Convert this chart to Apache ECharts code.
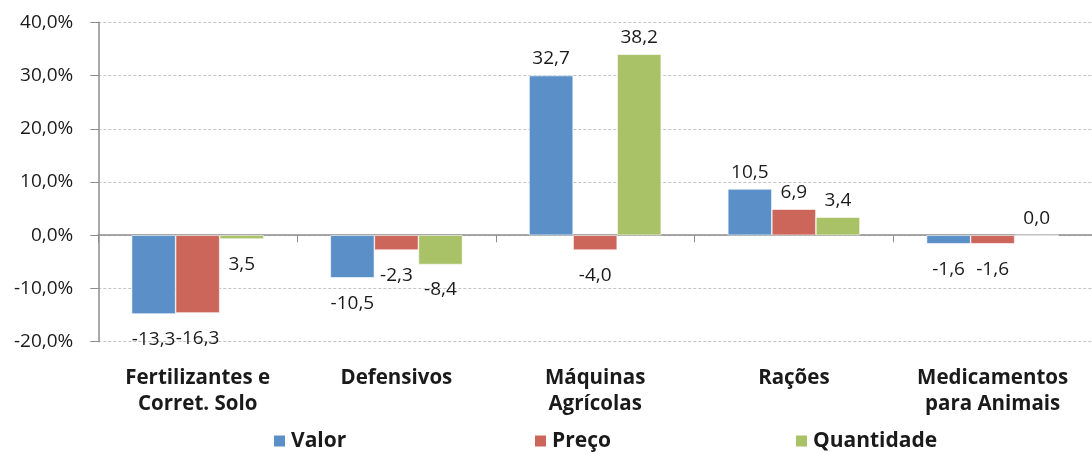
<!DOCTYPE html>
<html>
<head>
<meta charset="utf-8">
<script src="https://cdn.jsdelivr.net/npm/echarts@6/dist/echarts.min.js"></script>
<style>
html,body{margin:0;padding:0;background:#fff;}
#c{width:1092px;height:454px;}
</style>
</head>
<body>
<div id="c"></div>
<script>
const categories = ['Fertilizantes e\nCorret. Solo', 'Defensivos', 'Máquinas\nAgrícolas', 'Rações', 'Medicamentos\npara Animais'];
const seriesNames = ['Valor', 'Preço', 'Quantidade'];
// bar heights as drawn in the picture
const valor = [-14.8, -8.0, 30.0, 8.7, -1.6];
const preco = [-14.6, -2.8, -2.8, 4.9, -1.6];
const quantidade = [-0.7, -5.5, 34.0, 3.4, 0.0];
// data label texts as printed in the picture
const valorLabels = [-13.3, -10.5, 32.7, 10.5, -1.6];
const precoLabels = [-16.3, -2.3, -4.0, 6.9, -1.6];
const quantidadeLabels = [3.5, -8.4, 38.2, 3.4, 0.0];
const yTicks = [-20, -10, 0, 10, 20, 30, 40];

const colors = ['#5B8FC7', '#CC655A', '#A9C167'];
const FONT = '"Open Sans", sans-serif';

function fmt(v){ return v.toFixed(1).replace('.', ','); }

function buildData(vals, labs){
  return vals.map((v, i) => ({
    value: v,
    label: {
      position: v < 0 ? 'bottom' : 'top',
      distance: v < 0 ? 16 : 7,
      formatter: fmt(labs[i])
    }
  }));
}

const seriesVals = [valor, preco, quantidade];
const seriesLabs = [valorLabels, precoLabels, quantidadeLabels];

const chart = echarts.init(document.getElementById('c'), null, {renderer: 'canvas'});
chart.setOption({
  animation: false,
  color: colors,
  grid: {left: 98.3, top: 22.3, width: 1005, bottom: 112.3, containLabel: false},
  legend: {
    data: seriesNames,
    left: 272,
    top: 429,
    padding: 0,
    itemWidth: 13,
    itemHeight: 13,
    itemGap: 12,
    icon: 'rect',
    textStyle: {fontFamily: FONT, fontWeight: 'bold', fontSize: 21, color: '#1a1a1a', width: 230, lineHeight: 24}
  },
  xAxis: [{
    type: 'category',
    data: categories,
    axisLine: {onZero: true, lineStyle: {color: '#8C8C8C', width: 1.5}},
    axisTick: {show: true, length: 7, lineStyle: {color: '#8C8C8C'}},
    axisLabel: {show: false},
    splitLine: {show: false}
  }, {
    type: 'category',
    data: categories,
    position: 'bottom',
    axisLine: {show: false, onZero: false},
    axisTick: {show: false},
    axisLabel: {
      show: true, margin: 23, interval: 0,
      fontFamily: FONT, fontWeight: 'bold', fontSize: 20.5, lineHeight: 26, color: '#1a1a1a', align: 'center'
    }
  }],
  yAxis: {
    type: 'value',
    min: yTicks[0],
    max: yTicks[yTicks.length - 1],
    interval: 10,
    axisLine: {show: true, lineStyle: {color: '#8C8C8C', width: 1.5}},
    axisTick: {show: true, length: 8, lineStyle: {color: '#8C8C8C'}},
    axisLabel: {
      margin: 25,
      fontFamily: FONT, fontSize: 19, color: '#1a1a1a',
      formatter: v => fmt(v) + '%'
    },
    splitLine: {show: true, lineStyle: {color: '#C4C4C4', type: [3, 2], width: 1}}
  },
  series: seriesNames.map((name, k) => ({
    name: name,
    type: 'bar',
    xAxisIndex: 0,
    barGap: '0%',
    barCategoryGap: '33.5%',
    data: buildData(seriesVals[k], seriesLabs[k]),
    itemStyle: {color: colors[k], borderColor: '#ffffff', borderWidth: 0.6},
    label: {show: true, fontFamily: FONT, fontSize: 19, color: '#1a1a1a'}
  }))
});
</script>
</body>
</html>
